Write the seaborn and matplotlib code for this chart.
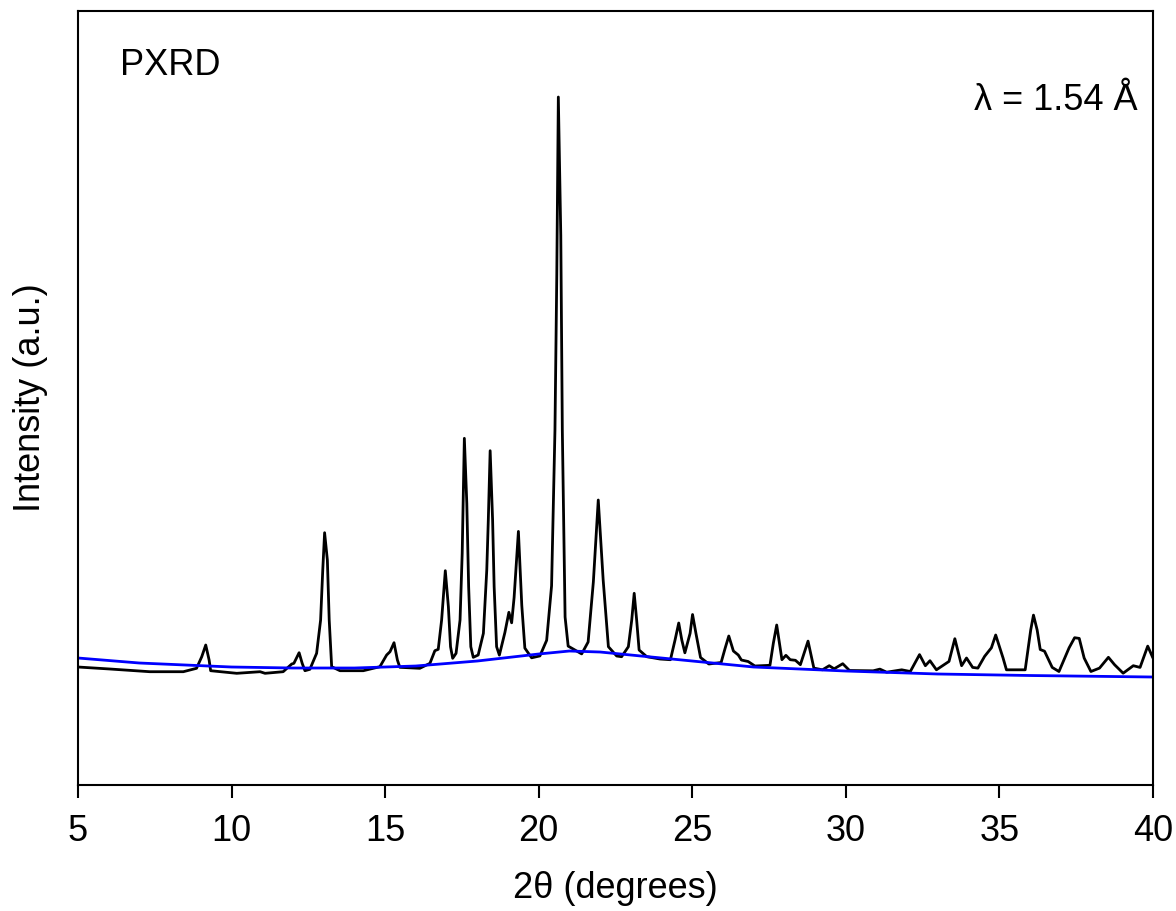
import matplotlib
matplotlib.use("Agg")
import matplotlib.pyplot as plt
import seaborn as sns
import pandas as pd

# ---- data (2theta in degrees, intensity in a.u.) ----
two_theta = [
    5.00, 6.04, 7.34, 8.43, 8.86, 9.03, 9.16, 9.27, 9.32, 10.17, 10.93, 11.09,
    11.68, 11.96, 12.03, 12.20, 12.30, 12.39, 12.55, 12.77, 12.90, 12.97, 13.03,
    13.12, 13.18, 13.26, 13.53, 13.96, 14.29, 14.83, 15.05, 15.16, 15.29, 15.40,
    15.48, 16.13, 16.46, 16.62, 16.73, 16.84, 16.96, 17.06, 17.13, 17.20, 17.31,
    17.44, 17.51, 17.58, 17.66, 17.72, 17.79, 17.87, 18.03, 18.20, 18.31, 18.36,
    18.42, 18.50, 18.55, 18.63, 18.72, 18.90, 19.03, 19.12, 19.20, 19.34, 19.45,
    19.55, 19.77, 20.04, 20.26, 20.42, 20.53, 20.59, 20.64, 20.72, 20.77, 20.86,
    20.96, 21.18, 21.40, 21.61, 21.78, 21.94, 22.10, 22.27, 22.54, 22.70, 22.92,
    23.03, 23.11, 23.19, 23.27, 23.52, 23.95, 24.29, 24.44, 24.56, 24.66, 24.76,
    24.93, 25.01, 25.12, 25.27, 25.54, 25.94, 26.07, 26.19, 26.34, 26.50, 26.60,
    26.82, 27.04, 27.53, 27.64, 27.75, 27.92, 28.05, 28.19, 28.36, 28.52, 28.77,
    28.96, 29.24, 29.46, 29.62, 29.90, 30.12, 30.89, 31.11, 31.33, 31.82, 32.10,
    32.40, 32.59, 32.74, 32.95, 33.20, 33.36, 33.55, 33.77, 33.93, 34.13, 34.30,
    34.52, 34.74, 34.88, 35.12, 35.23, 35.84, 36.02, 36.11, 36.23, 36.33, 36.47,
    36.72, 36.94, 37.27, 37.45, 37.60, 37.76, 37.98, 38.26, 38.55, 38.75, 39.03,
    39.36, 39.58, 39.83, 40.00,
]
intensity = [
    118.0, 116.0, 113.3, 113.3, 116.7, 128.3, 140.0, 125.0, 114.3, 111.7, 113.3, 111.7,
    113.3, 121.0, 121.7, 132.3, 121.7, 114.3, 115.7, 131.7, 165.0, 215.0, 252.3,
    225.0, 165.0, 118.3, 114.3, 114.3, 114.3, 118.3, 130.0, 133.3, 142.3, 125.0,
    117.7, 116.7, 121.7, 134.3, 135.7, 165.0, 214.3, 178.3, 138.3, 126.7, 131.7,
    165.0, 231.7, 346.7, 281.7, 198.3, 138.3, 127.7, 130.0, 151.7, 215.0, 265.0,
    334.3, 265.0, 198.3, 138.3, 129.9, 152.5, 172.7, 162.2, 187.5, 253.6, 179.7,
    136.9, 127.2, 129.1, 144.7, 199.2, 354.8, 510.4, 688.0, 549.4, 354.8, 168.0,
    138.9, 135.0, 131.1, 143.0, 203.0, 285.0, 205.0, 138.3, 129.0, 128.3, 138.3,
    165.0, 191.7, 165.0, 135.0, 128.3, 126.0, 125.3, 145.0, 162.0, 145.0, 132.2,
    151.7, 170.5, 151.7, 127.5, 121.0, 122.5, 136.7, 149.0, 134.0, 130.0, 125.0,
    123.5, 119.0, 119.7, 141.7, 160.0, 125.3, 129.7, 125.3, 124.7, 120.3, 143.9,
    116.9, 115.2, 119.3, 116.2, 121.3, 114.5, 114.2, 115.9, 112.8, 115.2, 113.5,
    130.4, 119.3, 124.3, 115.2, 120.3, 123.6, 146.3, 119.3, 127.0, 117.6, 116.9,
    128.7, 137.2, 150.0, 127.0, 115.2, 115.2, 155.0, 169.9, 155.0, 135.5, 133.8,
    117.6, 113.5, 137.2, 147.3, 146.6, 127.0, 113.5, 116.9, 127.7, 120.3, 111.8,
    119.3, 117.6, 138.9, 127.0,
]
bg_theta = [5, 7, 10, 12, 14, 16, 18, 20, 21, 22, 23, 25, 27, 30, 33, 36, 40]
bg_intensity = [127, 122, 118, 117, 117, 119, 124, 131, 134, 133, 130, 124, 118,
                114, 111, 109.5, 108]
x_ticks = [5, 10, 15, 20, 25, 30, 35, 40]

pattern = pd.DataFrame({"theta": two_theta, "I": intensity})
background = pd.DataFrame({"theta": bg_theta, "I": bg_intensity})

sns.set_style("ticks")
plt.rcParams["font.family"] = ["Liberation Sans", "DejaVu Sans"]
plt.rcParams["text.color"] = "black"
plt.rcParams["axes.labelcolor"] = "black"
plt.rcParams["xtick.color"] = "black"

fig = plt.figure(figsize=(11.76, 9.11), dpi=100)
ax = fig.add_axes([0.0663, 0.1383, 0.9141, 0.8496])

sns.lineplot(data=pattern, x="theta", y="I", ax=ax, color="black",
             linewidth=2.0, estimator=None, sort=False)
sns.lineplot(data=background, x="theta", y="I", ax=ax, color="#0000ff",
             linewidth=2.0, estimator=None, sort=False)

ax.set_xlim(5, 40)
ax.set_ylim(0, 774)
ax.set_xticks(x_ticks)
ax.set_xticklabels([str(t) for t in x_ticks])
ax.set_yticks([])
ax.tick_params(axis="x", direction="out", length=9, width=1.5,
               labelsize=26, pad=12, colors="black")
for s in ax.spines.values():
    s.set_visible(True)
    s.set_linewidth(1.5)
    s.set_color("black")

ax.set_xlabel("2θ (degrees)", fontsize=26, labelpad=16, color="black")
ax.set_ylabel("Intensity (a.u.)", fontsize=26, color="black")
ax.yaxis.set_label_coords(-0.028, 0.5)

ax.text(0.039, 0.917, "PXRD", transform=ax.transAxes, fontsize=26,
        ha="left", va="baseline", color="black")
ax.text(0.986, 0.872, "λ = 1.54 Å", transform=ax.transAxes, fontsize=26,
        ha="right", va="baseline", color="black")

fig.savefig("out.png", dpi=100)
